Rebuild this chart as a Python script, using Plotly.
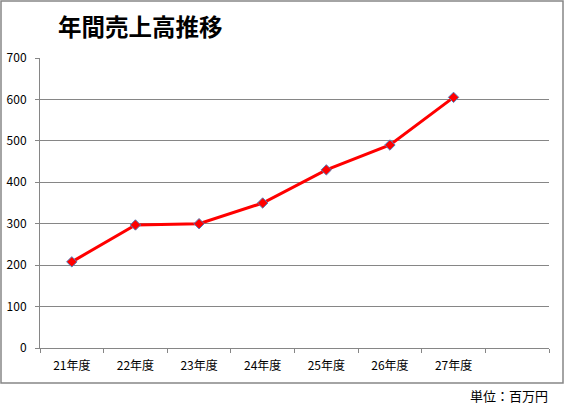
import plotly.graph_objects as go

# 年度別の売上高（単位：百万円）
years = ['21年度', '22年度', '23年度', '24年度', '25年度', '26年度', '27年度']
sales = [208, 297, 300, 350, 430, 490, 605]
y_ticks = [0, 100, 200, 300, 400, 500, 600, 700]

# 8番目は空の区分（右側の余白）
categories = years + [' ']

font_jp = 'Noto Sans CJK JP'
grid_gray = '#868686'

fig = go.Figure(
    data=[go.Scatter(
        x=years,
        y=sales,
        mode='lines+markers',
        line=dict(color='#FF0000', width=3),
        marker=dict(symbol='diamond', size=8, color='#FF0000',
                    line=dict(color='#4F81BD', width=1)),
        hovertemplate='%{x}: %{y}<extra></extra>'
    )],
    layout=go.Layout(
        width=565,
        height=405,
        margin=dict(l=40, r=16, t=58, b=57),
        paper_bgcolor='white',
        plot_bgcolor='white',
        showlegend=False,
        font=dict(family=font_jp, color='#000000', size=12),
        title=dict(
            text='<b>年間売上高推移</b>',
            x=58 / 565, xanchor='left',
            y=1 - 28 / 405, yanchor='middle',
            font=dict(family=font_jp, size=23.5, color='#000000')
        ),
        xaxis=dict(
            type='category',
            categoryorder='array',
            categoryarray=categories,
            range=[-0.5, len(categories) - 0.5],
            tickson='boundaries',
            ticks='outside',
            ticklen=4,
            tickcolor=grid_gray,
            ticklabelstandoff=7,
            automargin=False,
            showline=True,
            linecolor=grid_gray,
            linewidth=1,
            showgrid=False,
            tickfont=dict(size=12),
            fixedrange=True
        ),
        yaxis=dict(
            range=[0, 700],
            tickvals=y_ticks,
            ticks='outside',
            ticklen=4,
            tickcolor=grid_gray,
            ticklabelstandoff=6,
            automargin=False,
            showline=True,
            linecolor=grid_gray,
            linewidth=1,
            showgrid=True,
            gridcolor=grid_gray,
            gridwidth=1,
            zeroline=False,
            tickfont=dict(size=12),
            fixedrange=True
        ),
        shapes=[dict(
            type='rect', xref='paper', yref='paper',
            x0=(1 - 40) / 509, x1=(563 - 40) / 509,
            y0=(348 - 383) / 290, y1=(348 - 1) / 290,
            line=dict(color='#868686', width=1.5),
            fillcolor='rgba(0,0,0,0)',
            layer='below'
        )],
        annotations=[dict(
            text='単位：百万円',
            xref='paper', yref='paper',
            x=(550 - 40) / 509, xanchor='right',
            y=(348 - 395) / 290, yanchor='middle',
            showarrow=False,
            font=dict(family=font_jp, size=13, color='#000000')
        )]
    )
)

# ページ既定の余白(8px)を消して図を左上に合わせる
fig.write_html('out.html', config={'displayModeBar': False},
               post_script="document.body.style.margin='0';")
